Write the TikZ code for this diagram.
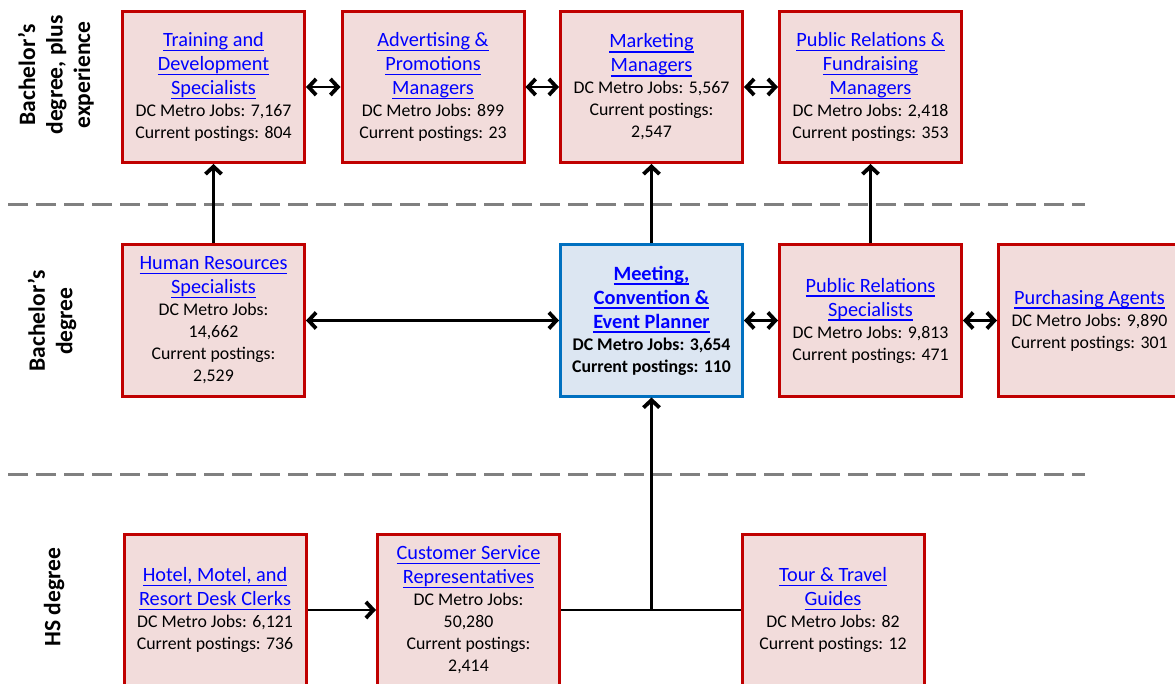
\documentclass[tikz,border=0pt]{standalone}
\usepackage{fontspec}
\setmainfont{Carlito}
\usetikzlibrary{arrows.meta}
\definecolor{boxfill}{HTML}{F2DCDB}
\definecolor{boxred}{HTML}{C00000}
\definecolor{focusfill}{HTML}{DCE6F2}
\definecolor{focusblue}{HTML}{0070C0}
\definecolor{linkblue}{HTML}{0000FF}
\definecolor{sepgray}{HTML}{808080}
\newcommand{\lnk}[1]{{\fontsize{20.3}{22}\selectfont\textcolor{linkblue}{\setbox0\hbox{#1}\rlap{\rule[-4.6pt]{\wd0}{1.3pt}}\box0}}}
\tikzset{
  job/.style={draw=boxred, fill=boxfill, line width=3pt, minimum width=182pt,
    minimum height=151pt, inner sep=2pt, align=center,
    font=\fontsize{17.8}{22}\selectfont},
  focus/.style={job, draw=focusblue, fill=focusfill},
  link/.style={line width=2.7pt, >={Straight Barb[length=7.5pt,width=16pt,line width=3.8pt]}},
  sep/.style={draw=sepgray, line width=3pt, dash pattern=on 20pt off 8pt},
  level/.style={rotate=90, align=center, font=\fontsize{23.5}{27.5}\selectfont\bfseries}
}
\begin{document}
\begin{tikzpicture}[x=1pt,y=-1pt]
  \useasboundingbox (0,0) rectangle (1175,684);
  \draw[sep] (8,205) -- (1085,205);
  \draw[sep] (8,474) -- (1085,474);
  \node[level] (lvtop) at (56,75) {Bachelor’s\\degree, plus\\experience};
  \node[level] (lvmid) at (52,321) {Bachelor’s\\degree};
  \node[level] (lvhs) at (54,597) {HS degree};
  % top row
  \node[job] (train) at (213.5,87) {\lnk{Training and}\\[2pt]\lnk{Development}\\[2pt]\lnk{Specialists}\\DC Metro Jobs: 7,167\\Current postings: 804};
  \node[job] (adv) at (433,87) {\lnk{Advertising \&}\\[2pt]\lnk{Promotions}\\[2pt]\lnk{Managers}\\DC Metro Jobs: 899\\Current postings: 23};
  \node[job] (mkt) at (651.5,87) {\lnk{Marketing}\\[2pt]\lnk{Managers}\\DC Metro Jobs: 5,567\\Current postings:\\2,547};
  \node[job] (prf) at (870.5,87) {\lnk{Public Relations \&}\\[2pt]\lnk{Fundraising}\\[2pt]\lnk{Managers}\\DC Metro Jobs: 2,418\\Current postings: 353};
  % middle row
  \node[job] (hr) at (213.5,320.5) {\lnk{Human Resources}\\[2pt]\lnk{Specialists}\\DC Metro Jobs:\\14,662\\Current postings:\\2,529};
  \node[focus] (mtg) at (651.5,320.5) {\bfseries\lnk{Meeting,}\\[2pt]\bfseries\lnk{Convention \&}\\[2pt]\bfseries\lnk{Event Planner}\\\bfseries DC Metro Jobs: 3,654\\\bfseries Current postings: 110};
  \node[job] (prs) at (870.5,320.5) {\lnk{Public Relations}\\[2pt]\lnk{Specialists}\\DC Metro Jobs: 9,813\\Current postings: 471};
  \node[job] (pur) at (1089.5,320.5) {\lnk{Purchasing Agents}\\DC Metro Jobs: 9,890\\Current postings: 301};
  % bottom row
  \node[job] (hotel) at (215,610) {\lnk{Hotel, Motel, and}\\[2pt]\lnk{Resort Desk Clerks}\\DC Metro Jobs: 6,121\\Current postings: 736};
  \node[job] (csr) at (468.5,610) {\lnk{Customer Service}\\[2pt]\lnk{Representatives}\\DC Metro Jobs:\\50,280\\Current postings:\\2,414};
  \node[job] (tour) at (833,610) {\lnk{Tour \& Travel}\\[2pt]\lnk{Guides}\\DC Metro Jobs: 82\\Current postings: 12};
  \begin{scope}[link]
    \draw[<->] (train) -- (adv);
    \draw[<->] (adv) -- (mkt);
    \draw[<->] (mkt) -- (prf);
    \draw[->] (hr) -- (train);
    \draw[->] (mtg) -- (mkt);
    \draw[->] (prs) -- (prf);
    \draw[<->] (hr) -- (mtg);
    \draw[<->] (mtg) -- (prs);
    \draw[<->] (prs) -- (pur);
    \draw[->] (hotel) -- (csr);
    \draw (csr) -- (tour);
    \coordinate (jn) at (mtg.south |- csr.east);
    \draw[->] (jn) -- (mtg);
  \end{scope}
\end{tikzpicture}
\end{document}
